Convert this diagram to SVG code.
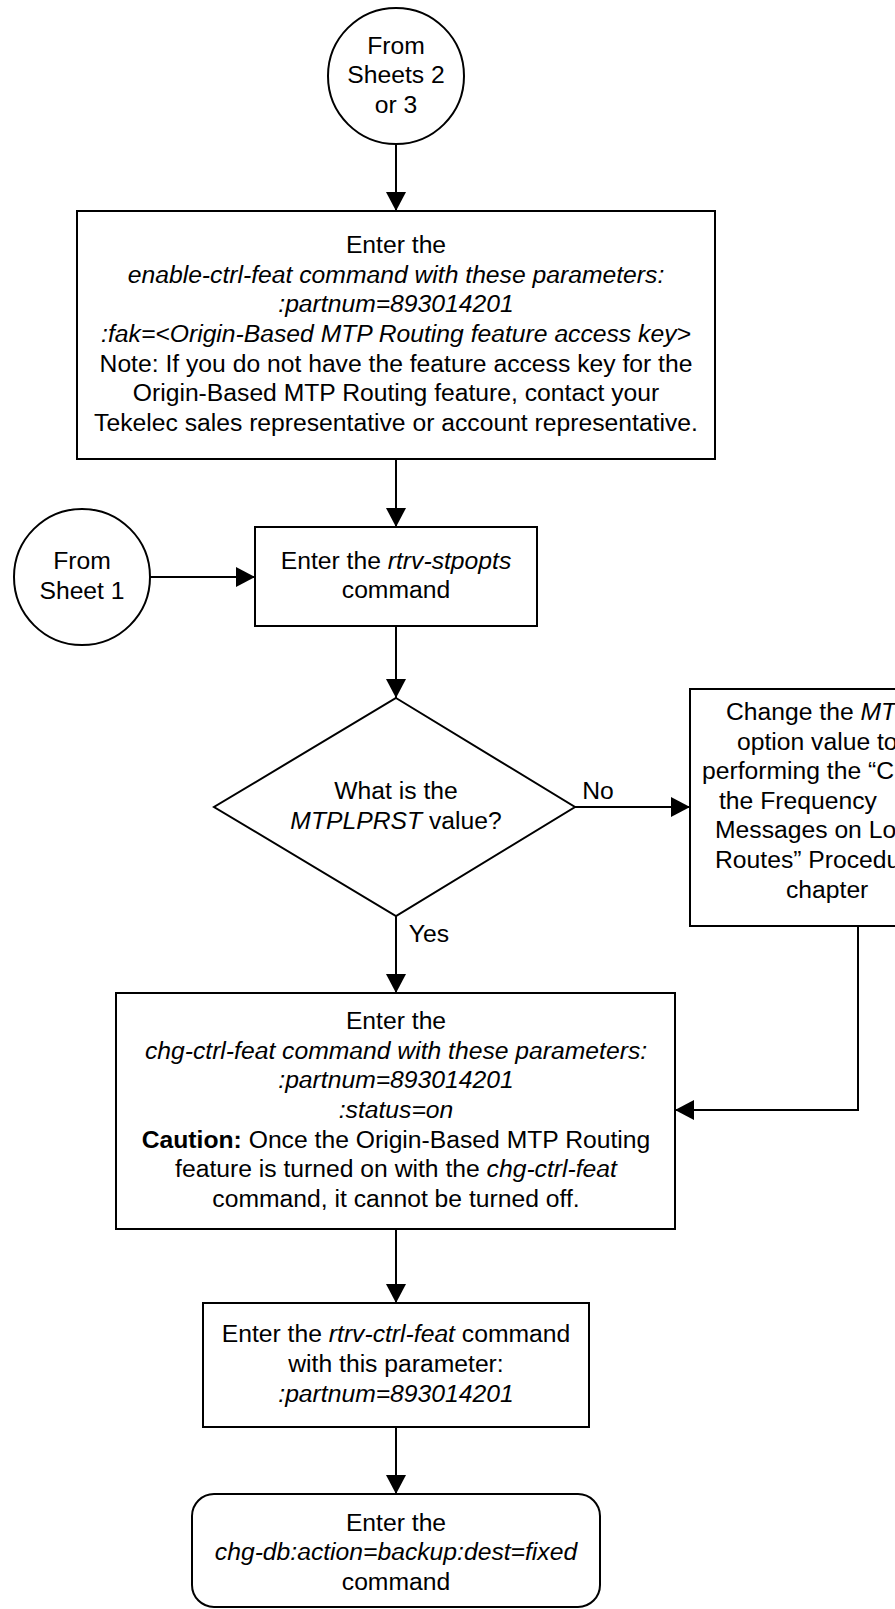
<svg xmlns="http://www.w3.org/2000/svg" width="895" height="1609" viewBox="0 0 895 1609">
<defs>
<marker id="arr" markerUnits="userSpaceOnUse" markerWidth="20" markerHeight="20" refX="19" refY="10" orient="auto">
<path d="M0,0 L19,10 L0,20 z" fill="#000"/>
</marker>
<style>
.s{fill:#fff;stroke:#000;stroke-width:2}
.t{font-family:"Liberation Sans",Arial,sans-serif;font-size:24.7px;fill:#000;text-anchor:middle}
.l{text-anchor:start}
.i{font-style:italic}
.b{font-weight:bold}
.c{fill:none;stroke:#000;stroke-width:2}
</style>
</defs>
<rect width="895" height="1609" fill="#fff"/>
<g id="connectors">
<path class="c" d="M396,144 L396,211" marker-end="url(#arr)"/>
<path class="c" d="M396,459 L396,527" marker-end="url(#arr)"/>
<path class="c" d="M150,577 L255,577" marker-end="url(#arr)"/>
<path class="c" d="M396,626 L396,698" marker-end="url(#arr)"/>
<path class="c" d="M575,807 L690,807" marker-end="url(#arr)"/>
<path class="c" d="M396,916 L396,993" marker-end="url(#arr)"/>
<path class="c" d="M858,926 L858,1110 L675,1110" marker-end="url(#arr)"/>
<path class="c" d="M396,1229 L396,1303" marker-end="url(#arr)"/>
<path class="c" d="M396,1427 L396,1494" marker-end="url(#arr)"/>
<text class="t" x="598" y="799">No</text>
<text class="t" x="429" y="942">Yes</text>
</g>
<g id="start1">
<circle class="s" cx="396" cy="76" r="68"/>
<text class="t" x="396" y="53.5">From</text>
<text class="t" x="396" y="83">Sheets 2</text>
<text class="t" x="396" y="112.5">or 3</text>
</g>
<g id="enable">
<rect class="s" x="77" y="211" width="638" height="248"/>
<text class="t" x="396" y="253.2">Enter the</text>
<text class="t i" x="396" y="282.8">enable-ctrl-feat command with these parameters:</text>
<text class="t i" x="396" y="312.4">:partnum=893014201</text>
<text class="t i" x="396" y="342">:fak=&lt;Origin-Based MTP Routing feature access key&gt;</text>
<text class="t" x="396" y="371.6">Note: If you do not have the feature access key for the</text>
<text class="t" x="396" y="401.2">Origin-Based MTP Routing feature, contact your</text>
<text class="t" x="396" y="430.8">Tekelec sales representative or account representative.</text>
</g>
<g id="start2">
<circle class="s" cx="82" cy="577" r="68"/>
<text class="t" x="82" y="569.2">From</text>
<text class="t" x="82" y="598.8">Sheet 1</text>
</g>
<g id="stpopts">
<rect class="s" x="255" y="527" width="282" height="99"/>
<text class="t" x="396" y="568.7">Enter the <tspan class="i">rtrv-stpopts</tspan></text>
<text class="t" x="396" y="598.3">command</text>
</g>
<g id="decision">
<path class="s" d="M396,698 L575,807 L396,916 L214,807 z"/>
<text class="t" x="396" y="799.2">What is the</text>
<text class="t" x="396" y="828.8"><tspan class="i">MTPLPRST</tspan> value?</text>
</g>
<g id="change">
<rect class="s" x="690" y="689" width="260" height="237"/>
<text class="t l" x="726" y="720">Change the <tspan class="i">MTPLPRST</tspan></text>
<text class="t l" x="737" y="749.6">option value to</text>
<text class="t l" x="702" y="779.2">performing the “Changing</text>
<text class="t l" x="719" y="808.8">the Frequency</text>
<text class="t l" x="715" y="838.4">Messages on Low</text>
<text class="t l" x="715" y="868">Routes” Procedure</text>
<text class="t l" x="786" y="897.6">chapter</text>
</g>
<g id="chgfeat">
<rect class="s" x="116" y="993" width="559" height="236"/>
<text class="t" x="396" y="1029.2">Enter the</text>
<text class="t i" x="396" y="1058.8">chg-ctrl-feat command with these parameters:</text>
<text class="t i" x="396" y="1088.4">:partnum=893014201</text>
<text class="t i" x="396" y="1118">:status=on</text>
<text class="t" x="396" y="1147.6"><tspan class="b">Caution:</tspan> Once the Origin-Based MTP Routing</text>
<text class="t" x="396" y="1177.2">feature is turned on with the <tspan class="i">chg-ctrl-feat</tspan></text>
<text class="t" x="396" y="1206.8">command, it cannot be turned off.</text>
</g>
<g id="rtrvfeat">
<rect class="s" x="203" y="1303" width="386" height="124"/>
<text class="t" x="396" y="1342.4">Enter the <tspan class="i">rtrv-ctrl-feat</tspan> command</text>
<text class="t" x="396" y="1372">with this parameter:</text>
<text class="t i" x="396" y="1401.6">:partnum=893014201</text>
</g>
<g id="backup">
<rect class="s" x="192" y="1494" width="408" height="113" rx="22" ry="22"/>
<text class="t" x="396" y="1530.5">Enter the</text>
<text class="t i" x="396" y="1560">chg-db:action=backup:dest=fixed</text>
<text class="t" x="396" y="1589.5">command</text>
</g>
</svg>
